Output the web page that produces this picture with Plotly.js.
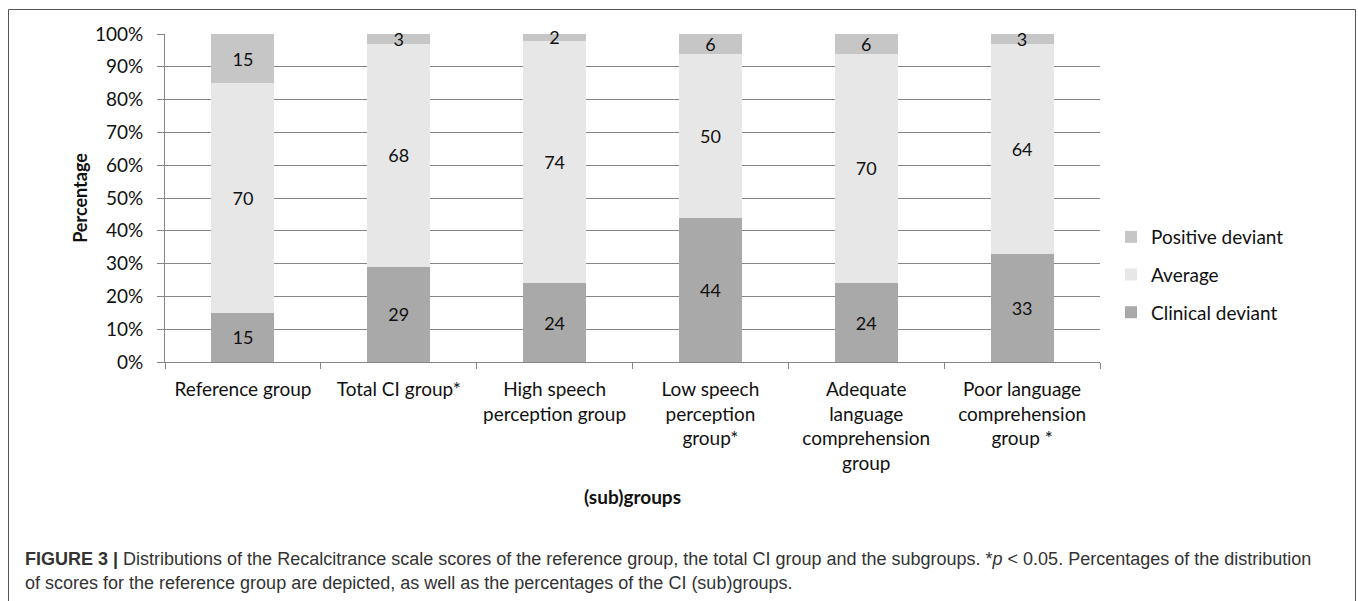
<!DOCTYPE html>
<html>
<head>
<meta charset="utf-8">
<script src="https://cdn.plot.ly/plotly-3.0.1.min.js"></script>
<style>
  html, body { margin: 0; padding: 0; background: #ffffff; }
  #chart { width: 1358px; height: 601px; }
</style>
</head>
<body>
<div id="chart"></div>
<script>
// ---- data ----
const categories = [
  'Reference group',
  'Total CI group*',
  'High speech<br>perception group',
  'Low speech<br>perception<br>group*',
  'Adequate<br>language<br>comprehension<br>group',
  'Poor language<br>comprehension<br>group *'
];
const clinicalDeviant = [15, 29, 24, 44, 24, 33];
const average         = [70, 68, 74, 50, 70, 64];
const positiveDeviant = [15, 3, 2, 6, 6, 3];
const seriesNames = ['Clinical deviant', 'Average', 'Positive deviant'];
const seriesColors = ['#a9a9a9', '#e7e7e7', '#c6c6c6'];
const legendRanks = [3, 2, 1];
const captionLine1 = '<b>FIGURE 3 |</b> Distributions of the Recalcitrance scale scores of the reference group, the total CI group and the subgroups. *<i>p</i> &lt; 0.05. Percentages of the distribution';
const captionLine2 = 'of scores for the reference group are depicted, as well as the percentages of the CI (sub)groups.';

// ---- geometry helpers (plot area in px) ----
const W = 1358, H = 601;
const L = 165, R = 1100, T = 34, B = 362;
const px2x = p => (p - L) / (R - L);
const px2y = p => (B - p) / (B - T);

const font = 'Lato, "Open Sans", sans-serif';
const series = [clinicalDeviant, average, positiveDeviant];

const traces = series.map((vals, i) => ({
  type: 'bar',
  name: seriesNames[i],
  legendgroup: 'g' + i,
  legendrank: legendRanks[i],
  x: categories,
  y: vals,
  text: vals.map(String),
  textposition: 'inside',
  insidetextanchor: 'middle',
  constraintext: 'none',
  textangle: 0,
  cliponaxis: false,
  textfont: { family: font, size: 18, color: '#111111' },
  marker: { color: seriesColors[i], line: { width: 0 } },
  hoverinfo: 'skip'
}));

const layout = {
  width: W, height: H,
  margin: { l: L, r: W - R, t: T, b: H - B, pad: 0 },
  paper_bgcolor: '#ffffff',
  plot_bgcolor: '#ffffff',
  barmode: 'stack',
  bargap: 0.595,
  font: { family: font, size: 19, color: '#111111' },
  showlegend: true,
  legend: {
    x: px2x(1111), y: px2y(275), xanchor: 'left', yanchor: 'middle',
    traceorder: 'grouped',
    tracegroupgap: 10,
    font: { family: font, size: 19, color: '#111111' },
    bgcolor: 'rgba(0,0,0,0)'
  },
  xaxis: {
    type: 'category',
    tickson: 'boundaries',
    ticks: 'outside', ticklen: 6, tickcolor: '#868686', tickwidth: 1,
    showline: true, linecolor: '#868686', linewidth: 1,
    showgrid: false, zeroline: false,
    tickangle: 0,
    ticklabelstandoff: 10,
    tickfont: { family: font, size: 19, color: '#111111' },
    title: { text: '<b>(sub)groups</b>', font: { family: font, size: 19, color: '#111111' }, standoff: 17 }
  },
  yaxis: {
    range: [0, 100], dtick: 10, tick0: 0,
    ticksuffix: '%',
    ticks: 'outside', ticklen: 7, tickcolor: '#868686', tickwidth: 1,
    showline: true, linecolor: '#868686', linewidth: 1,
    showgrid: true, gridcolor: '#868686', gridwidth: 1,
    zeroline: false,
    ticklabelstandoff: 10,
    tickfont: { family: font, size: 19, color: '#111111' },
    title: { text: '<b>Percentage</b>', font: { family: font, size: 18, color: '#111111' }, standoff: 2 }
  },
  shapes: [{
    type: 'rect', xref: 'paper', yref: 'paper',
    x0: px2x(8.5), x1: px2x(1355.5), y0: px2y(640), y1: px2y(9.5),
    line: { color: '#555555', width: 1 }, fillcolor: 'rgba(0,0,0,0)', layer: 'above'
  }],
  annotations: [
    { text: captionLine1, xref: 'paper', yref: 'paper', x: px2x(23), y: px2y(559),
      xanchor: 'left', yanchor: 'middle', showarrow: false, align: 'left',
      font: { family: '"Liberation Sans", Arial, sans-serif', size: 18, color: '#333333' } },
    { text: captionLine2, xref: 'paper', yref: 'paper', x: px2x(23), y: px2y(583),
      xanchor: 'left', yanchor: 'middle', showarrow: false, align: 'left',
      font: { family: '"Liberation Sans", Arial, sans-serif', size: 18, color: '#333333' } }
  ]
};

Plotly.newPlot('chart', traces, layout, { staticPlot: true, displayModeBar: false });
</script>
</body>
</html>
